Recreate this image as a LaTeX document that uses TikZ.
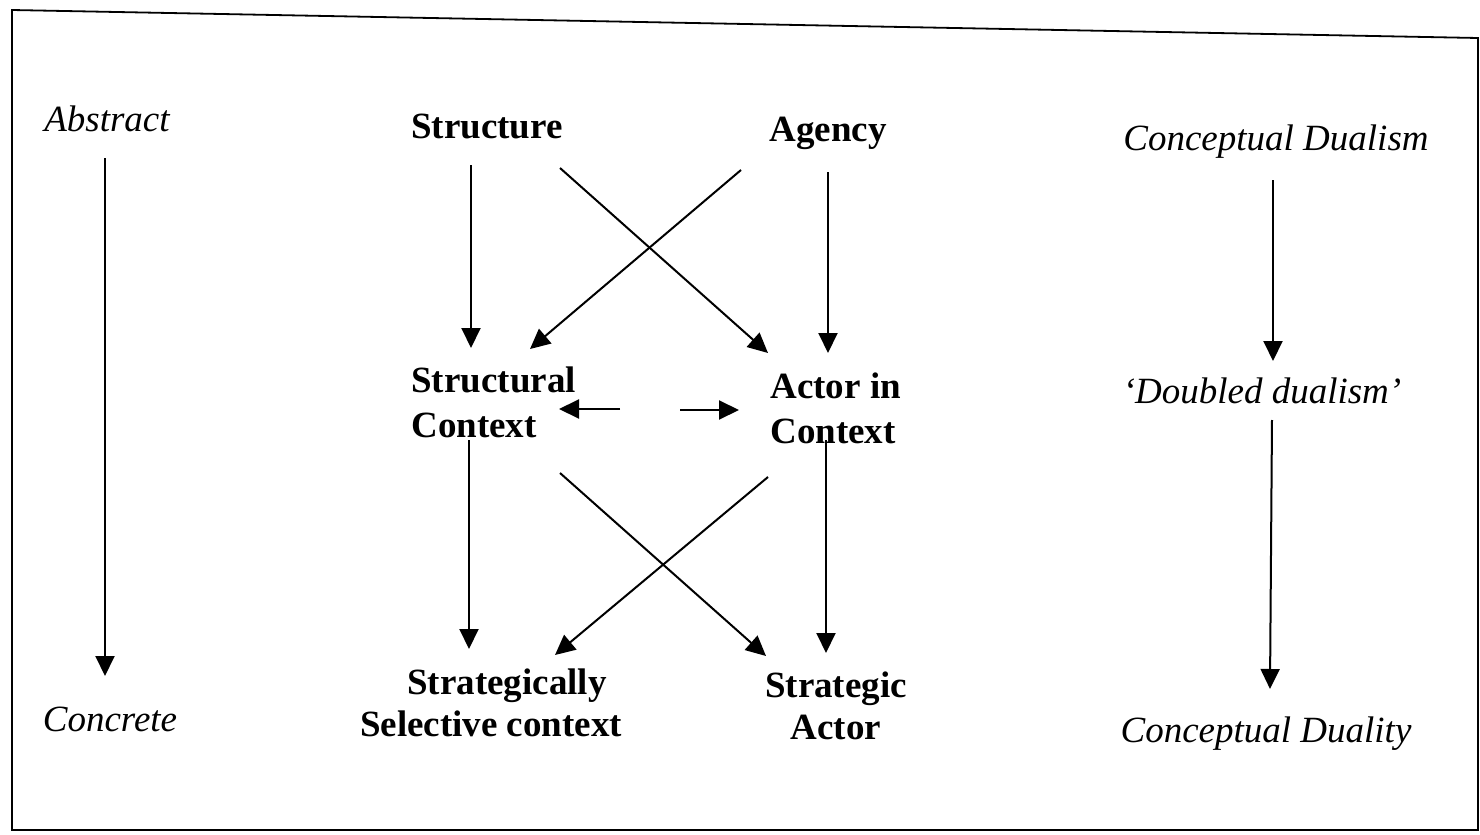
\documentclass[tikz,border=0pt]{standalone}
\usepackage{fontspec}
\setmainfont{Liberation Serif}
\usetikzlibrary{arrows.meta}
\begin{document}
\begin{tikzpicture}[x=0.5pt,y=-0.5pt,
  lbl/.style={font=\fontsize{18.5}{21}\selectfont\bfseries, inner sep=0pt, align=center},
  ital/.style={font=\fontsize{18.5}{22}\selectfont\itshape, inner sep=0pt},
  arr/.style={-{Triangle[length=10pt,width=9.5pt]}, line width=1pt},
  frame/.style={line width=0.9pt}]
\useasboundingbox (0,0) rectangle (1480,835);
\draw[frame] (12,10) -- (1478,38) -- (1478,830) -- (12,830) -- cycle;

% side labels
\node[ital] (abs) at (107,119) {Abstract};
\node[ital] (conc) at (110,719) {Concrete};
\node[ital] (cdm) at (1276,142) {Conceptual Dualism};
\node[ital] (dd) at (1262,391) {‘Doubled dualism’};
\node[ital] (cdy) at (1266,734) {Conceptual Duality};

% main labels
\node[lbl] (str) at (487,126) {Structure};
\node[lbl] (agn) at (828,133) {Agency};
\node[lbl, align=left, anchor=west, font=\fontsize{18.5}{22.5}\selectfont\bfseries] (sc) at (411,402) {Structural\\Context};
\node[lbl, align=left, anchor=west, font=\fontsize{18.5}{22.5}\selectfont\bfseries] (aic) at (770,408) {Actor in\\Context};
\node[lbl] (ssc) at (491,703) {\hspace*{16pt}Strategically\\Selective context};
\node[lbl] (sa) at (836,706) {Strategic\\Actor};

% connector end points
\coordinate (a1) at (105,158); \coordinate (a2) at (105,676);
\coordinate (r1) at (1273,180); \coordinate (r2) at (1273,361);
\coordinate (r3) at (1272,420); \coordinate (r4) at (1270,689);
\coordinate (s1) at (471,165); \coordinate (s2) at (471,348);
\coordinate (s3) at (560,168); \coordinate (s4) at (768,353);
\coordinate (g1) at (741,170); \coordinate (g2) at (530,349);
\coordinate (g3) at (828,172); \coordinate (g4) at (828,353);
\coordinate (m1) at (620,409); \coordinate (m2) at (559,409);
\coordinate (m3) at (680,410); \coordinate (m4) at (739,410);
\coordinate (c1) at (469,440); \coordinate (c2) at (469,649);
\coordinate (c3) at (560,473); \coordinate (c4) at (766,656);
\coordinate (d1) at (768,477); \coordinate (d2) at (555,655);
\coordinate (d3) at (826,440); \coordinate (d4) at (826,653);

\draw[arr] (a1) -- (a2);
\draw[arr] (r1) -- (r2);
\draw[arr] (r3) -- (r4);
\draw[arr] (s1) -- (s2);
\draw[arr] (s3) -- (s4);
\draw[arr] (g1) -- (g2);
\draw[arr] (g3) -- (g4);
\draw[arr] (m1) -- (m2);
\draw[arr] (m3) -- (m4);
\draw[arr] (c1) -- (c2);
\draw[arr] (c3) -- (c4);
\draw[arr] (d1) -- (d2);
\draw[arr] (d3) -- (d4);
\end{tikzpicture}
\end{document}
